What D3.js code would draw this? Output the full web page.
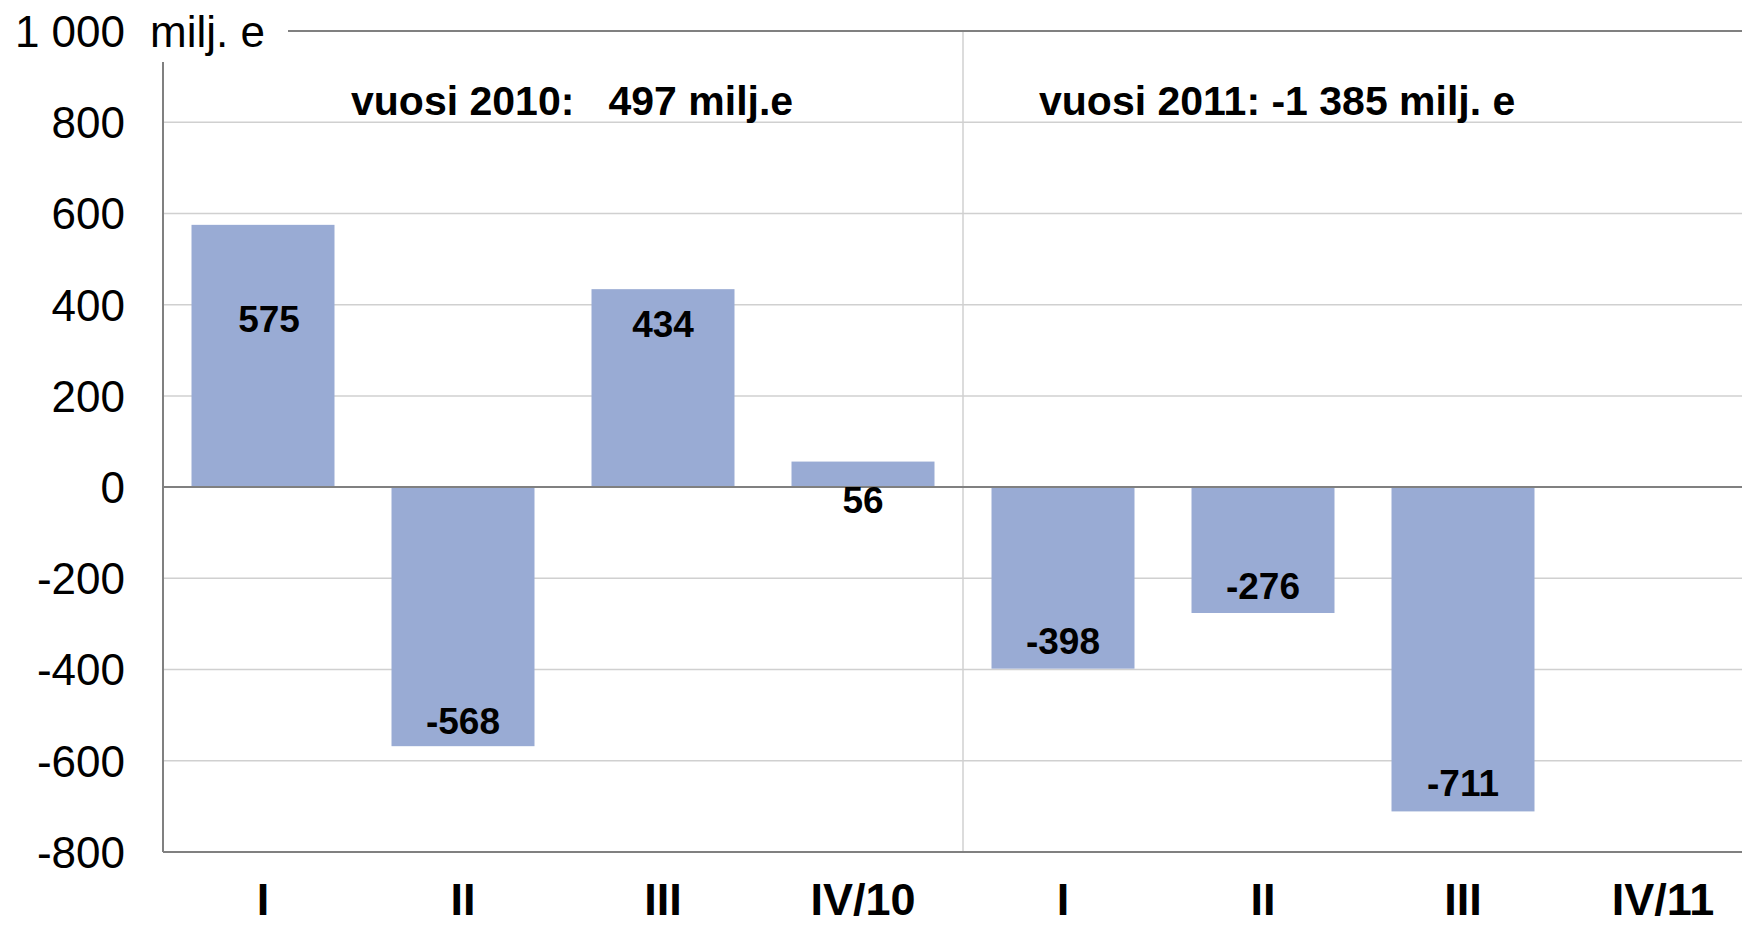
<!DOCTYPE html>
<html>
<head>
<meta charset="utf-8">
<script src="https://cdn.jsdelivr.net/npm/d3@7"></script>
<style>
  html, body { margin: 0; padding: 0; background: #fff; }
  svg { display: block; font-family: 'Liberation Sans', Arial, sans-serif; }
  .tick-label { font-size: 44px; fill: #000; }
  .cat-label { font-size: 45px; font-weight: bold; fill: #000; }
  .bar-value { font-size: 37px; font-weight: bold; fill: #000; }
  .year-title { font-size: 41px; font-weight: bold; fill: #000; white-space: pre; }
</style>
</head>
<body>
<div id="chart"></div>
<script>
// ---------- Data ----------
const categories = ['I', 'II', 'III', 'IV/10', 'I ', 'II ', 'III ', 'IV/11']
const values     = [575, -568, 434, 56, -398, -276, -711, null]
const yTicks     = [-800, -600, -400, -200, 0, 200, 400, 600, 800, 1000]
const yearTitles = ['vuosi 2010:   497 milj.e', 'vuosi 2011: -1 385 milj. e']
const unitLabel  = 'milj. e'

// ---------- Dimensions ----------
const width  = 1742
const height = 928
const plot = { left: 163, right: 1763, top: 31, bottom: 852 }

const x = d3.scaleBand()
  .domain(categories)
  .range([plot.left, plot.right])
  .paddingInner(0.285)
  .paddingOuter(0.1425)

const y = d3.scaleLinear()
  .domain([-800, 1000])
  .range([plot.bottom, plot.top])

const svg = d3.select('#chart')
  .append('svg')
  .attr('width', width)
  .attr('height', height)

// ---------- Grid ----------
svg.append('g')
  .selectAll('line')
  .data(yTicks.filter(t => t !== 0 && t !== 1000 && t !== -800))
  .join('line')
  .attr('x1', plot.left)
  .attr('x2', width)
  .attr('y1', d => y(d))
  .attr('y2', d => y(d))
  .attr('stroke', '#d0d0d0')
  .attr('stroke-width', 1.5)

// year separator (between IV/10 and I)
const sepX = x(categories[4]) - x.step() * x.paddingInner() / 2
svg.append('line')
  .attr('x1', sepX).attr('x2', sepX)
  .attr('y1', y(1000)).attr('y2', y(-800))
  .attr('stroke', '#d0d0d0')
  .attr('stroke-width', 1.5)

// ---------- Bars ----------
const barData = categories.map((c, i) => ({ cat: c, value: values[i], i }))
  .filter(d => d.value !== null)

svg.append('g')
  .selectAll('rect')
  .data(barData)
  .join('rect')
  .attr('x', d => x(d.cat))
  .attr('width', x.bandwidth())
  .attr('y', d => y(Math.max(0, d.value)))
  .attr('height', d => Math.abs(y(d.value) - y(0)))
  .attr('fill', '#99abd4')

// ---------- Frame / axes ----------
const frame = svg.append('g').attr('stroke', '#808080').attr('stroke-width', 2)
frame.append('line') // top
  .attr('x1', plot.left).attr('x2', width)
  .attr('y1', y(1000)).attr('y2', y(1000))
frame.append('line') // left
  .attr('x1', plot.left).attr('x2', plot.left)
  .attr('y1', y(1000)).attr('y2', y(-800))
frame.append('line') // bottom
  .attr('x1', plot.left).attr('x2', width)
  .attr('y1', y(-800)).attr('y2', y(-800))
frame.append('line') // zero
  .attr('x1', plot.left).attr('x2', width)
  .attr('y1', y(0)).attr('y2', y(0))

// white box behind the unit label, hides the frame corner like the original
svg.append('rect')
  .attr('x', 0).attr('y', 0)
  .attr('width', 288).attr('height', 62)
  .attr('fill', '#fff')

// ---------- Y tick labels ----------
const fmt = v => d3.format(',')(v).replace(/,/g, ' ').replace('\u2212', '-')
svg.append('g')
  .selectAll('text')
  .data(yTicks)
  .join('text')
  .attr('class', 'tick-label')
  .attr('x', 125)
  .attr('y', d => y(d))
  .attr('dy', '0.36em')
  .attr('text-anchor', 'end')
  .text(d => fmt(d))

svg.append('text')
  .attr('class', 'tick-label')
  .attr('x', 150)
  .attr('y', y(1000))
  .attr('dy', '0.36em')
  .text(unitLabel)

// ---------- Category labels ----------
svg.append('g')
  .selectAll('text')
  .data(categories)
  .join('text')
  .attr('class', 'cat-label')
  .attr('x', d => x(d) + x.bandwidth() / 2)
  .attr('y', 915)
  .attr('text-anchor', 'middle')
  .text(d => d.trim())

// ---------- Value labels ----------
// label distance from the bar end, in px (tweaked by hand in the original)
const labelInset = [94, 26, 35, 38, 28, 27, 29]
svg.append('g')
  .selectAll('text')
  .data(barData)
  .join('text')
  .attr('class', 'bar-value')
  .attr('x', d => x(d.cat) + x.bandwidth() / 2 + (d.i === 0 ? 6 : 0))
  .attr('y', d => d.value >= 0 ? y(d.value) + labelInset[d.i] : y(d.value) - labelInset[d.i])
  .attr('dy', '0.36em')
  .attr('text-anchor', 'middle')
  .text(d => d.value)

// ---------- Year titles ----------
svg.append('text')
  .attr('class', 'year-title')
  .attr('x', 351)
  .attr('y', y(800) - 22)
  .attr('dy', '0.36em')
  .text(yearTitles[0])

svg.append('text')
  .attr('class', 'year-title')
  .attr('x', 1039)
  .attr('y', y(800) - 22)
  .attr('dy', '0.36em')
  .text(yearTitles[1])
</script>
</body>
</html>
